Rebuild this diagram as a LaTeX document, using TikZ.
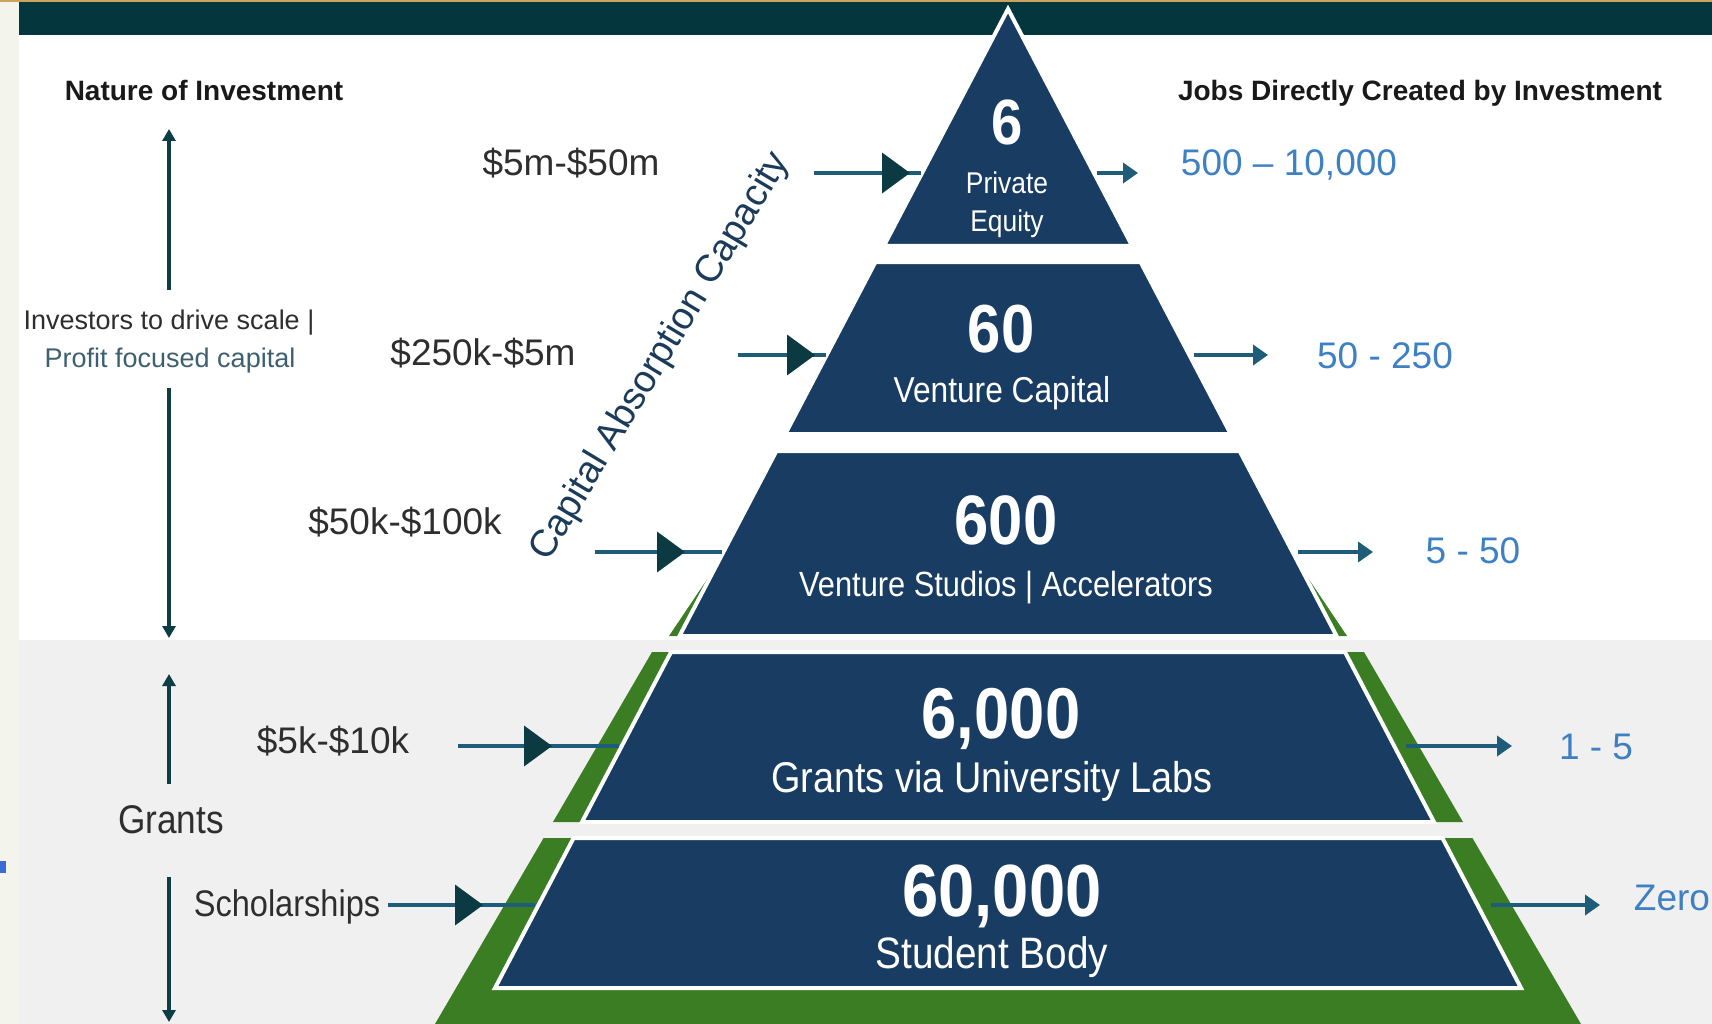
\documentclass[tikz,border=0pt]{standalone}
\usepackage{fontspec}
\setmainfont{Liberation Sans}
\newfontfamily\narrowfont[FakeStretch=0.88]{Liberation Sans}
\usepackage{xcolor}
\usepackage{tikz}
\usetikzlibrary{arrows.meta}
\usetikzlibrary{shapes,arrows,positioning}
\tikzset{>=latex}

\definecolor{barteal}{HTML}{03363D}
\definecolor{topgold}{HTML}{C9A45C}
\definecolor{stripbg}{HTML}{F3F5EC}
\definecolor{lowbg}{HTML}{F0F0F0}
\definecolor{tiernavy}{HTML}{183C62}
\definecolor{basegreen}{HTML}{3B7D23}
\definecolor{feedline}{HTML}{1F5C7A}
\definecolor{feedhead}{HTML}{0B3A42}
\definecolor{jobsblue}{HTML}{3E80C4}
\definecolor{axisteal}{HTML}{0D3D45}
\definecolor{capnavy}{HTML}{1B3B5A}
\definecolor{profitgray}{HTML}{3D6070}
\definecolor{amtgray}{HTML}{2E2E2E}
\definecolor{markblue}{HTML}{3A6BD6}

\tikzset{
  label text/.style={inner sep=0pt, anchor=base, yshift={-0.358*#1}},
  heading/.style={label text=28, text=black!90, font=\bfseries\fontsize{28}{30}\selectfont},
  amount/.style={label text=37, text=amtgray, font=\fontsize{37}{40}\selectfont},
  jobcount/.style={label text=37, text=jobsblue, font=\fontsize{37}{40}\selectfont},
  side note/.style={label text=27, font=\fontsize{27}{30}\selectfont},
  side narrow/.style={label text=#1, text=amtgray, font=\narrowfont\fontsize{#1}{#1}\selectfont},
  tier number/.style={label text=#1, text=white, font=\narrowfont\bfseries\fontsize{#1}{#1}\selectfont},
  tier name/.style={label text=#1, text=white, font=\narrowfont\fontsize{#1}{#1}\selectfont},
  tier/.style={fill=tiernavy, draw=white, line width=4pt, line join=miter},
  feed/.style={draw=feedline, line width=4pt},
  feed tip/.style={feed, -{Triangle[length=28pt, width=40pt, color=feedhead]}},
  outflow/.style={draw=feedline, line width=4pt, -{Triangle[length=15pt, width=20pt]}},
  scale axis/.style={draw=axisteal, line width=3.5pt, -{Triangle[length=12pt, width=13pt]}}
}

\begin{document}
\begin{tikzpicture}[x=1pt, y=-1pt]
  \useasboundingbox (0,0) rectangle (1712,1024);
  \fill[stripbg] (0,0) rectangle (1712,1024);
  \fill[white] (19,35) rectangle (1712,640);
  \fill[lowbg] (19,640) rectangle (1712,1024);
  \fill[barteal] (19,2) rectangle (1712,35);
  \fill[topgold] (0,0) rectangle (1712,2);
  \fill[markblue] (0,861) rectangle (6,873);

  \fill[basegreen] (716.7,565) -- (669,636) -- (1347,636) -- (1299.3,565) -- cycle;
  \fill[basegreen] (652,652) -- (553,822) -- (1463,822) -- (1364,652) -- cycle;
  \fill[basegreen] (543.6,838) -- (435,1024) -- (1581,1024) -- (1472.4,838) -- cycle;

  \filldraw[tier] (1008,9) -- ({1008+0.524*237},246) -- ({1008-0.524*237},246) -- cycle;
  \foreach \ytop/\ybot in {262/434, 451/636, 652/822, 838/988}
    \filldraw[tier] ({1008-0.524*(\ytop-9)},\ytop) -- ({1008+0.524*(\ytop-9)},\ytop)
      -- ({1008+0.524*(\ybot-9)},\ybot) -- ({1008-0.524*(\ybot-9)},\ybot) -- cycle;

  \node[tier number=64] (n-pe) at (1007,122) {6};
  \node[tier name=30] (t-pe1) at (1007,183) {Private};
  \node[tier name=30] (t-pe2) at (1007,221) {Equity};
  \node[tier number=68] (n-vc) at (1001,328) {60};
  \node[tier name=36] (t-vc) at (1002,390) {Venture Capital};
  \node[tier number=70] (n-vs) at (1006,519) {600};
  \node[tier name=35] (t-vs) at (1006,584) {Venture Studios | Accelerators};
  \node[tier number=72] (n-gr) at (1001,713) {6,000};
  \node[tier name=43] (t-gr) at (992,777) {Grants via University Labs};
  \node[tier number=74] (n-sb) at (1002,890) {60,000};
  \node[tier name=44] (t-sb) at (992,953) {Student Body};

  \node[heading] (nature) at (204,90) {Nature of Investment};
  \node[heading] (jobs-head) at (1420,90) {Jobs Directly Created by Investment};
  \node[side note, text=amtgray] (drive) at (169,320) {Investors to drive scale |};
  \node[side note, text=profitgray] (profit) at (170,358) {Profit focused capital};
  \node[side narrow=40] (grants) at (171,819) {Grants};
  \node[side narrow=37] (scholar) at (287,903) {Scholarships};

  \node[amount] (amt-pe) at (571,162) {\$5m-\$50m};
  \node[amount] (amt-vc) at (483,352) {\$250k-\$5m};
  \node[amount] (amt-vs) at (405,521) {\$50k-\$100k};
  \node[amount] (amt-gr) at (333,740) {\$5k-\$10k};

  \node[jobcount] (jobs-pe) at (1289,162) {500 – 10,000};
  \node[jobcount] (jobs-vc) at (1385,355) {50 - 250};
  \node[jobcount] (jobs-vs) at (1473,550) {5 - 50};
  \node[jobcount] (jobs-gr) at (1596,746) {1 - 5};
  \node[jobcount] (jobs-sb) at (1672,897) {Zero};

  \node[anchor=base, rotate=59, inner sep=0pt, text=capnavy, font=\fontsize{38}{40}\selectfont] (capacity) at (669,362) {Capital Absorption Capacity};

  \foreach \i/\y/\xs/\xt/\xe in {1/173/814/910/921, 2/355/738/815/826, 3/552/595/685/722, 4/746/458/552/619, 5/905/388/483/535}{
    \coordinate (in\i-start) at (\xs,\y);
    \coordinate (in\i-tip) at (\xt,\y);
    \coordinate (in\i-end) at (\xe,\y);
    \draw[feed] (in\i-start) -- (in\i-end);
    \draw[feed tip] (in\i-start) -- (in\i-tip);
  }
  \foreach \i/\y/\xs/\xe in {1/173/1097/1138, 2/355/1194/1268, 3/552/1298/1373, 4/746/1406/1512, 5/905/1491/1600}{
    \coordinate (out\i-start) at (\xs,\y);
    \coordinate (out\i-end) at (\xe,\y);
    \draw[outflow] (out\i-start) -- (out\i-end);
  }

  \coordinate (scale-up-from) at (169,290);
  \coordinate (scale-up-to) at (169,129);
  \coordinate (scale-down-from) at (169,388);
  \coordinate (scale-down-to) at (169,638);
  \coordinate (grant-up-from) at (169,784);
  \coordinate (grant-up-to) at (169,674);
  \coordinate (grant-down-from) at (169,877);
  \coordinate (grant-down-to) at (169,1022);
  \draw[scale axis] (scale-up-from) -- (scale-up-to);
  \draw[scale axis] (scale-down-from) -- (scale-down-to);
  \draw[scale axis] (grant-up-from) -- (grant-up-to);
  \draw[scale axis] (grant-down-from) -- (grant-down-to);
\end{tikzpicture}
\end{document}
